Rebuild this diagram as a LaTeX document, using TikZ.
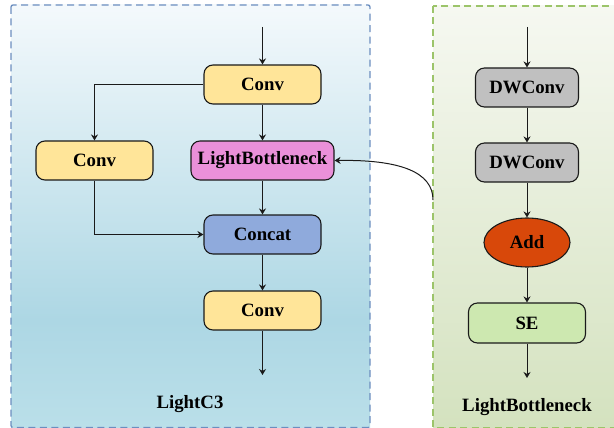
\documentclass[tikz,border=0pt]{standalone}
\usepackage{fontspec}
\setmainfont{Liberation Serif}
\usetikzlibrary{arrows.meta,shapes.geometric}

\definecolor{panelblueTop}{HTML}{F4F9FC}
\definecolor{panelblueMid}{HTML}{ADD7E4}
\definecolor{panelblueBot}{HTML}{BADFE9}
\definecolor{panelblueLine}{HTML}{6C8EBF}
\definecolor{panelgreenTop}{HTML}{F6F8F1}
\definecolor{panelgreenBot}{HTML}{D4E2BF}
\definecolor{panelgreenLine}{HTML}{9CC46A}
\definecolor{convfill}{HTML}{FFE599}
\definecolor{lbfill}{HTML}{EA90D9}
\definecolor{concatfill}{HTML}{8FAADC}
\definecolor{dwfill}{HTML}{C0C0C0}
\definecolor{addfill}{HTML}{D8480A}
\definecolor{sefill}{HTML}{CDE8B0}
\definecolor{edge}{HTML}{1A1A1A}

\tikzset{
  block/.style={draw=edge, line width=1.1pt, rounded corners=9pt,
    minimum height=39pt, inner sep=0pt, font=\fontsize{18.8}{20}\selectfont\bfseries},
  ovalblock/.style={ellipse, draw=edge, line width=1.1pt, fill=addfill,
    minimum width=86pt, minimum height=49pt, inner sep=0pt,
    font=\fontsize{18.8}{20}\selectfont\bfseries},
  flow/.style={draw=edge, line width=1pt, -{Stealth[length=6pt,width=7pt]}},
  caption/.style={font=\fontsize{18.8}{20}\selectfont\bfseries},
}

\begin{document}
\begin{tikzpicture}[x=1pt,y=-1pt]
\useasboundingbox (0,0) rectangle (614,428);
\clip (0,0) rectangle (614,428);

% LightC3 panel background
\shade[top color=panelblueTop, bottom color=panelblueMid] (11,5) rectangle (370,320);
\shade[top color=panelblueMid, bottom color=panelblueBot] (11,320) rectangle (370,427.5);
\draw[panelblueLine, line width=1.3pt, dash pattern=on 7pt off 4.5pt, rounded corners=2pt]
  (11,5) rectangle (370,427.5);

% LightBottleneck panel background
\shade[top color=panelgreenTop, bottom color=panelgreenBot] (433,6) rectangle (640,427.5);
\draw[panelgreenLine, line width=1.3pt, dash pattern=on 7pt off 4.5pt]
  (433,6) rectangle (640,427.5);

% LightC3 blocks
\node[block, fill=convfill, minimum width=117pt] (conv1) at (262.5,84.5) {Conv};
\node[block, fill=convfill, minimum width=117pt] (conv2) at (94.5,160.5) {Conv};
\node[block, fill=lbfill, minimum width=143pt] (lb) at (262.5,160.5) {LightBottleneck};
\node[block, fill=concatfill, minimum width=117pt] (cat) at (262.5,234.5) {Concat};
\node[block, fill=convfill, minimum width=117pt] (conv3) at (262.5,310.5) {Conv};
\coordinate (c3in) at (262.5,27);
\coordinate (c3out) at (262.5,375);
\node[caption] (c3label) at (190,404) {LightC3};

\draw[flow] (c3in) -- (conv1.north);
\draw[flow] (conv1.south) -- (lb.north);
\draw[flow] (conv1.west) -| (conv2.north);
\draw[flow] (conv2.south) |- (cat.west);
\draw[flow] (lb.south) -- (cat.north);
\draw[flow] (cat.south) -- (conv3.north);
\draw[flow] (conv3.south) -- (c3out);

% LightBottleneck blocks
\node[block, fill=dwfill, minimum width=103pt] (dw1) at (527,87.5) {DWConv};
\node[block, fill=dwfill, minimum width=103pt] (dw2) at (527,162.5) {DWConv};
\node[ovalblock] (add) at (527,242.5) {Add};
\node[block, fill=sefill, minimum width=117pt, minimum height=40pt] (se) at (527,323) {SE};
\coordinate (lbin) at (527,27);
\coordinate (lbout) at (527,378);
\node[caption] (lblabel) at (527,407) {LightBottleneck};

\draw[flow] (lbin) -- (dw1.north);
\draw[flow] (dw1.south) -- (dw2.north);
\draw[flow] (dw2.south) -- (add.north);
\draw[flow] (add.south) -- (se.north);
\draw[flow] (se.south) -- (lbout);

% link from the LightBottleneck panel back to its block
\coordinate (lbpanel) at (433,200);
\draw[flow] (lbpanel) .. controls (433,172) and (400,159.5) .. (lb.east);
\end{tikzpicture}
\end{document}
